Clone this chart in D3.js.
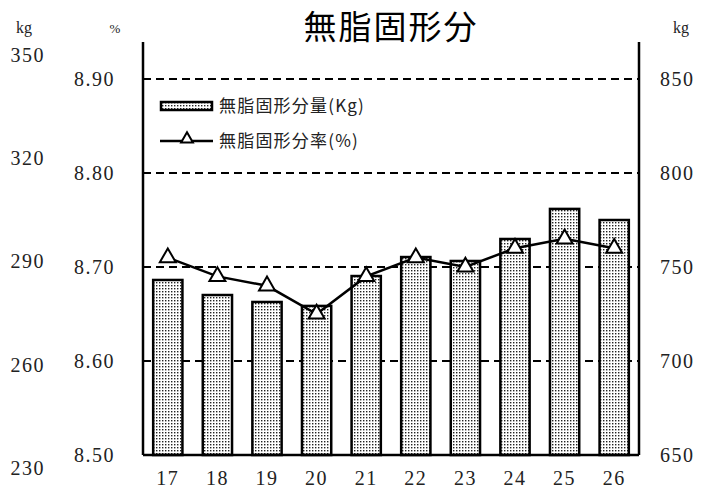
<!DOCTYPE html>
<html><head><meta charset="utf-8">
<script src="https://cdn.jsdelivr.net/npm/d3@7"></script>
<style>body{margin:0;background:#fff}
.sf{font-family:"Liberation Serif","Times New Roman","DejaVu Serif",serif;}
</style>
</head><body>
<svg id="c" width="706" height="495"></svg>
<script>
const categories = ["17","18","19","20","21","22","23","24","25","26"];
const solidsKg = [743.1, 735.1, 731.4, 729.3, 745.2, 755.3, 753.2, 764.9, 780.9, 775.0];
const solidsPct = [8.71, 8.69, 8.68, 8.65, 8.69, 8.71, 8.70, 8.72, 8.73, 8.72];
const pctTicks = [8.50, 8.60, 8.70, 8.80, 8.90];
const rightTicks = [650, 700, 750, 800, 850];
const leftKgTicks = [230, 260, 290, 320, 350];
const title = "無脂固形分";
const legendBar = "無脂固形分量(Kg)";
const legendLine = "無脂固形分率(%)";

const svg = d3.select("#c");
const L = 143, R = 639, T = 42, B = 455;
const serif = '"Liberation Serif", "Times New Roman", "DejaVu Serif", serif';
const cjk = '"Noto Sans CJK JP", "Noto Sans", sans-serif';

const x = d3.scaleBand().domain(categories).range([L, R]).paddingInner(0.41).paddingOuter(0.205);
const yP = d3.scaleLinear().domain([8.50, 8.90]).range([B, 79]);
const yK = d3.scaleLinear().domain([650, 850]).range([B, 79]);
const yL = d3.scaleLinear().domain([230, 350]).range([468, 55]);

const defs = svg.append("defs");
const pat = defs.append("pattern").attr("id","dots").attr("patternUnits","userSpaceOnUse")
  .attr("width",3).attr("height",3);
pat.append("rect").attr("width",3).attr("height",3).attr("fill","#fff");
pat.append("rect").attr("x",0).attr("y",0).attr("width",1.4).attr("height",1.4).attr("fill","#222");

svg.append("g").selectAll("line").data(pctTicks.filter(d=>d>8.5)).join("line")
  .attr("x1",L).attr("x2",R).attr("y1",d=>yP(d)).attr("y2",d=>yP(d))
  .attr("stroke","#000").attr("stroke-width",2).attr("stroke-dasharray","8,5");

svg.append("g").selectAll("rect").data(solidsKg).join("rect")
  .attr("x",(d,i)=>x(categories[i])).attr("width",x.bandwidth())
  .attr("y",d=>yK(d)).attr("height",d=>B-yK(d))
  .attr("fill","url(#dots)").attr("stroke","#000").attr("stroke-width",2.5);

svg.append("line").attr("x1",L).attr("x2",L).attr("y1",T).attr("y2",B).attr("stroke","#000").attr("stroke-width",2.5);
svg.append("line").attr("x1",R).attr("x2",R).attr("y1",T).attr("y2",B).attr("stroke","#000").attr("stroke-width",2.5);
svg.append("line").attr("x1",L).attr("x2",R).attr("y1",B).attr("y2",B).attr("stroke","#000").attr("stroke-width",2.5);

const line = d3.line().x((d,i)=>x(categories[i])+x.bandwidth()/2).y(d=>yP(d));
svg.append("path").datum(solidsPct).attr("d",line).attr("fill","none").attr("stroke","#000").attr("stroke-width",2.5);
const tri = d3.symbol().type(d3.symbolTriangle).size(110);
svg.append("g").selectAll("path").data(solidsPct).join("path")
  .attr("d",tri).attr("transform",(d,i)=>`translate(${x(categories[i])+x.bandwidth()/2},${yP(d)})`)
  .attr("fill","#fff").attr("stroke","#000").attr("stroke-width",2);

function styleText(g){
  g.select(".domain").remove();
  g.attr("font-family",null);
  g.selectAll("text").attr("class","sf").style("font-family",serif).style("font-size","20px")
    .attr("letter-spacing","1.5px").attr("fill","#222");
}
const gP = svg.append("g").attr("transform",`translate(${L},0)`)
  .call(d3.axisLeft(yP).tickValues(pctTicks).tickFormat(d3.format(".2f")).tickSize(0).tickPadding(28));
styleText(gP);
const gR = svg.append("g").attr("transform",`translate(${R},0)`)
  .call(d3.axisRight(yK).tickValues(rightTicks).tickSize(0).tickPadding(21));
styleText(gR);
const gL = svg.append("g").attr("transform",`translate(45,0)`)
  .call(d3.axisLeft(yL).tickValues(leftKgTicks).tickSize(0).tickPadding(0));
styleText(gL);
const gX = svg.append("g").attr("transform",`translate(0,${B})`)
  .call(d3.axisBottom(x).tickSize(0).tickPadding(16));
styleText(gX);

function unit(xp, size, t){
  svg.append("text").attr("x",xp).attr("y",33).attr("text-anchor","middle")
    .style("font-family",serif).style("font-size",size+"px").attr("fill","#222").text(t);
}
unit(24,16,"kg"); unit(115,13,"%"); unit(681,16,"kg");

svg.append("text").attr("x",391).attr("y",39).attr("text-anchor","middle").style("font-family",cjk).style("font-size","33px").attr("letter-spacing","2px").attr("fill","#000").text(title);

svg.append("rect").attr("x",161).attr("y",102).attr("width",51).attr("height",8).attr("fill","url(#dots)").attr("stroke","#000").attr("stroke-width",2.5);
svg.append("text").attr("x",219).attr("y",112).style("font-family",cjk).style("font-size","17px").attr("letter-spacing","1.2px").attr("fill","#222").text(legendBar);
svg.append("line").attr("x1",160).attr("x2",213).attr("y1",141).attr("y2",141).attr("stroke","#000").attr("stroke-width",2.5);
svg.append("path").attr("d",d3.symbol().type(d3.symbolTriangle).size(60)).attr("transform","translate(187,139)").attr("fill","#fff").attr("stroke","#000").attr("stroke-width",2);
svg.append("text").attr("x",219).attr("y",147).style("font-family",cjk).style("font-size","17px").attr("letter-spacing","1.2px").attr("fill","#222").text(legendLine);
</script>
</body></html>
